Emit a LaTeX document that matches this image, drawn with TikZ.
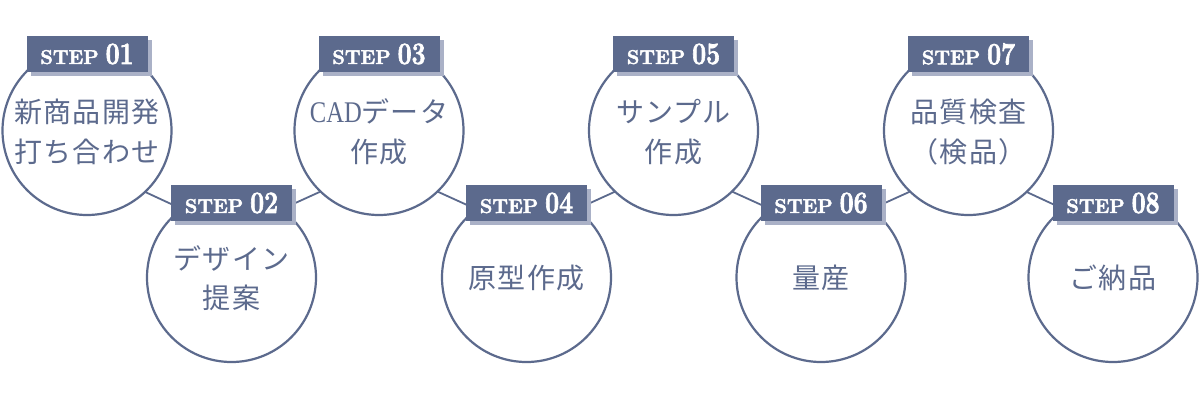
\documentclass[tikz,border=0pt]{standalone}
\usepackage{fontspec}
\usepackage{graphicx}
\newfontfamily\jp[LetterSpace=4]{Noto Sans CJK JP}
\newfontfamily\stepfont[FakeBold=2.4]{Latin Modern Roman}
\newfontfamily\latinserif{Liberation Serif}
\definecolor{navy}{RGB}{92,106,141}
\definecolor{navyshadow}{RGB}{170,177,199}
\newcommand{\steptag}[1]{{\fontsize{20}{20}\selectfont STEP}\hspace{7pt}{\fontsize{31}{31}\selectfont\scalebox{0.8}[1]{#1}}}
\begin{document}
\begin{tikzpicture}[x=1pt,y=-1pt,
  stepcircle/.style={circle, draw=navy, line width=2.2pt, fill=white, minimum size=169pt, inner sep=0pt},
  steplabel/.style={fill=navy, text=white, minimum width=121pt, minimum height=36pt, inner sep=0pt, font=\stepfont\bfseries},
  labelshadow/.style={fill=navyshadow, minimum width=121pt, minimum height=36pt, inner sep=0pt},
  steptext/.style={text=navy, align=center, inner sep=0pt, font=\jp\fontsize{28}{39.5}\selectfont},
  zig/.style={draw=navy, line width=1.8pt, line join=round}]
\useasboundingbox (0,0) rectangle (1200,400);
\fill[white] (0,0) rectangle (1200,400);
% zigzag connector
\coordinate (z1) at (87,165);
\coordinate (z2) at (231.5,232);
\coordinate (z3) at (379,165);
\coordinate (z4) at (526.5,232);
\coordinate (z5) at (673.5,165);
\coordinate (z6) at (821,232);
\coordinate (z7) at (968.5,165);
\coordinate (z8) at (1113,232);
\draw[zig] (z1) -- (z2) -- (z3) -- (z4) -- (z5) -- (z6) -- (z7) -- (z8);
% circles
\node[stepcircle] (c1) at (87,130.5) {};
\node[stepcircle] (c2) at (231.5,277.5) {};
\node[stepcircle] (c3) at (379,130.5) {};
\node[stepcircle] (c4) at (526.5,277.5) {};
\node[stepcircle] (c5) at (673.5,130.5) {};
\node[stepcircle] (c6) at (821,277.5) {};
\node[stepcircle] (c7) at (968.5,130.5) {};
\node[stepcircle] (c8) at (1113,277.5) {};
% label shadows
\node[labelshadow] (s1) at (91,57.5) {};
\node[labelshadow] (s2) at (235.5,206.5) {};
\node[labelshadow] (s3) at (383,57.5) {};
\node[labelshadow] (s4) at (530.5,206.5) {};
\node[labelshadow] (s5) at (677.5,57.5) {};
\node[labelshadow] (s6) at (825,206.5) {};
\node[labelshadow] (s7) at (972.5,57.5) {};
\node[labelshadow] (s8) at (1117,206.5) {};
% labels
\node[steplabel] (l1) at (87,54) {\steptag{01}};
\node[steplabel] (l2) at (231.5,203) {\steptag{02}};
\node[steplabel] (l3) at (379,54) {\steptag{03}};
\node[steplabel] (l4) at (526.5,203) {\steptag{04}};
\node[steplabel] (l5) at (673.5,54) {\steptag{05}};
\node[steplabel] (l6) at (821,203) {\steptag{06}};
\node[steplabel] (l7) at (968.5,54) {\steptag{07}};
\node[steplabel] (l8) at (1113,203) {\steptag{08}};
% texts
\node[steptext] (t1) at (87,132) {新商品開発\\打ち合わせ};
\node[steptext] (t2) at (231.5,278) {デザイン\\提案};
\node[steptext] (t3) at (379,132) {{\latinserif\fontsize{30}{39.5}\selectfont\scalebox{0.82}[1]{CAD}}データ\\作成};
\node[steptext] (t4) at (526.5,278) {原型作成};
\node[steptext] (t5) at (673.5,132) {サンプル\\作成};
\node[steptext] (t6) at (821,278) {量産};
\node[steptext] (t7) at (968.5,132) {品質検査\\（検品）};
\node[steptext] (t8) at (1113,278) {ご納品};
\end{tikzpicture}
\end{document}
